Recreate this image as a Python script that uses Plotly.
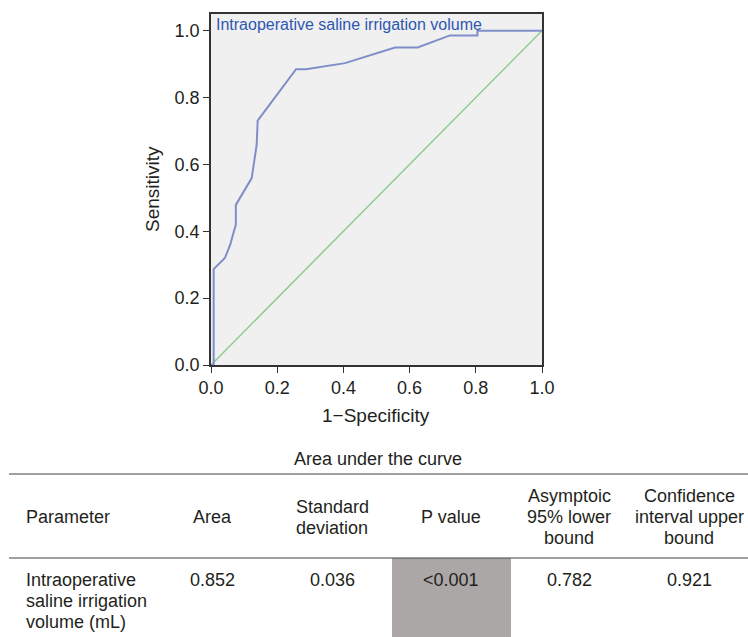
import plotly.graph_objects as go

# ROC curve data (1-Specificity, Sensitivity)
fpr = [0.0, 0.008, 0.008, 0.042, 0.058, 0.073, 0.075, 0.075, 0.123, 0.138, 0.141,
       0.257, 0.287, 0.405, 0.556, 0.624, 0.722, 0.805, 0.805, 1.0]
tpr = [0.0, 0.0, 0.287, 0.32, 0.36, 0.42, 0.42, 0.479, 0.559, 0.659, 0.731,
       0.885, 0.885, 0.903, 0.95, 0.95, 0.986, 0.986, 1.0, 1.0]
ref_x = [0.0, 1.0]
ref_y = [0.0, 1.0]
curve_label = "Intraoperative saline irrigation volume"

x_ticks = [0.0, 0.2, 0.4, 0.6, 0.8, 1.0]
y_ticks = [0.0, 0.2, 0.4, 0.6, 0.8, 1.0]

# Table data
table_title = "Area under the curve"
table_headers = [["Parameter"], ["Area"], ["Standard", "deviation"], ["P value"],
                 ["Asymptoic", "95% lower", "bound"], ["Confidence", "interval upper", "bound"]]
table_row = [["Intraoperative", "saline irrigation", "volume (mL)"], ["0.852"], ["0.036"],
             ["<0.001"], ["0.782"], ["0.921"]]

W, H = 748, 637
FONT = "Liberation Sans, Arial, sans-serif"
TXT = "#231f20"
LINE_H = 21

def px(x):
    return x / W

def py(y):
    return 1 - y / H

fig = go.Figure()
fig.add_trace(go.Scatter(x=ref_x, y=ref_y, mode="lines",
                         line=dict(color="#8dcc8f", width=1.5), cliponaxis=False,
                         showlegend=False, hoverinfo="skip"))
fig.add_trace(go.Scatter(x=fpr, y=tpr, mode="lines",
                         line=dict(color="#7e8ec9", width=2), cliponaxis=False,
                         showlegend=False))

ann = []
# curve label
ann.append(dict(x=0.008, y=1.05, xref="x", yref="y", text=curve_label, showarrow=False,
                xanchor="left", yanchor="top", yshift=0,
                font=dict(family=FONT, size=16, color="#2f57b0")))
# axis titles
ann.append(dict(x=px(152), y=py(189), xref="paper", yref="paper", text="Sensitivity",
                showarrow=False, textangle=-90, xanchor="center", yanchor="middle",
                font=dict(family=FONT, size=19, color=TXT)))
ann.append(dict(x=px(376), y=py(416), xref="paper", yref="paper", text="1\u2212Specificity",
                showarrow=False, xanchor="center", yanchor="middle",
                font=dict(family=FONT, size=19, color=TXT)))
# table title
ann.append(dict(x=px(378), y=py(459), xref="paper", yref="paper", text=table_title,
                showarrow=False, xanchor="center", yanchor="middle",
                font=dict(family=FONT, size=18, color=TXT)))

col_x = [24, 213, 332, 451, 569, 689]
HEAD_MID = 517
ROW_TOP = 580
for i, (h, v) in enumerate(zip(table_headers, table_row)):
    anchor = "left" if i == 0 else "center"
    n = len(h)
    for k, line in enumerate(h):
        yc = HEAD_MID + (k - (n - 1) / 2) * LINE_H
        ann.append(dict(x=px(col_x[i]), y=py(yc), xref="paper", yref="paper", text=line,
                        showarrow=False, xanchor=anchor, yanchor="middle",
                        font=dict(family=FONT, size=18, color=TXT)))
    for k, line in enumerate(v):
        yc = ROW_TOP + k * LINE_H
        ann.append(dict(x=px(col_x[i]), y=py(yc), xref="paper", yref="paper", text=line,
                        showarrow=False, xanchor=anchor, yanchor="middle",
                        font=dict(family=FONT, size=18, color=TXT)))

shapes = [
    dict(type="rect", xref="paper", yref="paper", x0=px(392), x1=px(511), y0=0, y1=py(558),
         fillcolor="#aba7a7", line=dict(width=0), layer="below"),
    dict(type="line", xref="paper", yref="paper", x0=px(9), x1=1, y0=py(474), y1=py(474),
         line=dict(color="#444", width=1)),
    dict(type="line", xref="paper", yref="paper", x0=px(9), x1=1, y0=py(558), y1=py(558),
         line=dict(color="#444", width=1)),
]

fig.update_layout(
    width=W, height=H, autosize=False,
    margin=dict(l=0, r=0, t=0, b=0, pad=0),
    paper_bgcolor="white", plot_bgcolor="#f0f0f0",
    annotations=ann, shapes=shapes,
    xaxis=dict(domain=[px(211), px(542)], range=[0, 1], tickvals=x_ticks, tickformat=".1f",
               showgrid=False, zeroline=False, showline=True, mirror=True, linecolor="#333",
               linewidth=1.5, ticks="outside", ticklen=6, tickcolor="#333", automargin=False,
               tickfont=dict(family=FONT, size=18, color=TXT)),
    yaxis=dict(domain=[py(365), py(14)], range=[0, 1.05], tickvals=y_ticks, tickformat=".1f",
               showgrid=False, zeroline=False, showline=True, mirror=True, linecolor="#333",
               linewidth=1.5, ticks="outside", ticklen=6, tickcolor="#333", automargin=False,
               tickfont=dict(family=FONT, size=18, color=TXT)),
)

# remove the page's default body margin so the 748x637 figure fills the window exactly
fig.write_html("out.html", config={"displayModeBar": False},
               post_script="document.body.style.margin='0';document.body.style.overflow='hidden';")
